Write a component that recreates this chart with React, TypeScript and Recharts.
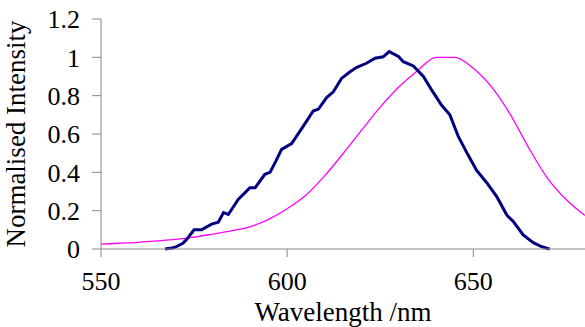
import { LineChart, Line, XAxis, YAxis } from "recharts";

// emission spectra
const darkWavelengths = [
    567.2, 569, 570, 572, 573, 575, 577, 579.7, 581.5, 582.9, 584.2, 586.9, 588.5, 590, 591.4, 594, 595.4, 597,
    598.5, 601.2, 604.3, 607, 608.4, 610.6, 612.4, 614.6, 616.9, 618.7, 621.3, 623.6, 625.8, 627.4, 629.9, 631.2,
    633.9, 636.6, 638.8, 641.5, 643.7, 646, 648.6, 650.9, 653.6, 656.3, 659, 660.8, 663.4, 666.1, 668, 669.7, 670.5,
];
const darkIntensity = [
    0, 0.005, 0.01, 0.03, 0.05, 0.1, 0.1, 0.13, 0.14, 0.19, 0.18, 0.26, 0.29, 0.32, 0.32, 0.39, 0.4, 0.46,
    0.52, 0.55, 0.64, 0.72, 0.73, 0.79, 0.82, 0.89, 0.925, 0.948, 0.969, 0.995, 1.003, 1.03, 1.005, 0.977,
    0.955, 0.9, 0.83, 0.75, 0.7, 0.586, 0.49, 0.41, 0.346, 0.273, 0.177, 0.142, 0.073, 0.033, 0.015, 0.004, 0,
];

const pinkWavelengths = [
    550, 555, 560, 565, 570, 575, 580, 585, 590, 595, 600, 605, 610, 615, 620, 625, 630, 635, 640, 645, 650,
    655, 660, 665, 670, 675, 680,
];
const pinkIntensity = [
    0.025, 0.03, 0.035, 0.042, 0.05, 0.062, 0.078, 0.095, 0.116, 0.155, 0.21, 0.28, 0.38, 0.497, 0.62, 0.74,
    0.845, 0.93, 1.0, 1.0, 0.943, 0.843, 0.7, 0.524, 0.367, 0.257, 0.175,
];

const xTicks = [550, 600, 650];
const yTicks = [0, 0.2, 0.4, 0.6, 0.8, 1, 1.2];

const darkData = darkWavelengths.map((x, i) => ({ x, y: darkIntensity[i] }));
const pinkData = pinkWavelengths.map((x, i) => ({ x, y: pinkIntensity[i] }));

const FONT = '"Liberation Serif", "Times New Roman", serif';
const AXIS = "#888";

export default function App() {
    return (
        <div style={{ position: "fixed", left: 0, top: 0, width: 585, height: 327, background: "#fff" }}>
            <LineChart width={585} height={327} margin={{ top: 19, right: 0, bottom: 0, left: 0 }}>
                <XAxis
                    type="number"
                    dataKey="x"
                    domain={[550, 680]}
                    ticks={xTicks}
                    allowDataOverflow
                    height={78}
                    stroke={AXIS}
                    tickSize={8}
                    tickMargin={15}
                    tick={{ fill: "#000", fontSize: 26, fontFamily: FONT }}
                    label={{
                        content: ({ viewBox }: any) => (
                            <text
                                x={viewBox.x + viewBox.width / 2}
                                y={viewBox.y + 72}
                                textAnchor="middle"
                                fontSize={27}
                                fontFamily={FONT}
                                fill="#000"
                            >
                                Wavelength /nm
                            </text>
                        ),
                    }}
                />
                <YAxis
                    type="number"
                    dataKey="y"
                    domain={[0, 1.2]}
                    ticks={yTicks}
                    width={101}
                    stroke={AXIS}
                    tickSize={9}
                    tickMargin={12}
                    tick={{ fill: "#000", fontSize: 26, fontFamily: FONT }}
                    label={{
                        content: ({ viewBox }: any) => {
                            const cx = 25;
                            const cy = viewBox.y + viewBox.height / 2;
                            return (
                                <text
                                    x={cx}
                                    y={cy}
                                    transform={`rotate(-90, ${cx}, ${cy})`}
                                    textAnchor="middle"
                                    fontSize={27}
                                    fontFamily={FONT}
                                    fill="#000"
                                >
                                    Normalised Intensity
                                </text>
                            );
                        },
                    }}
                />
                <Line
                    data={pinkData}
                    dataKey="y"
                    type="monotone"
                    stroke="#FF00FF"
                    strokeWidth={1.3}
                    dot={false}
                    isAnimationActive={false}
                />
                <Line
                    data={darkData}
                    dataKey="y"
                    type="linear"
                    stroke="#000080"
                    strokeWidth={3}
                    dot={false}
                    isAnimationActive={false}
                />
            </LineChart>
        </div>
    );
}
